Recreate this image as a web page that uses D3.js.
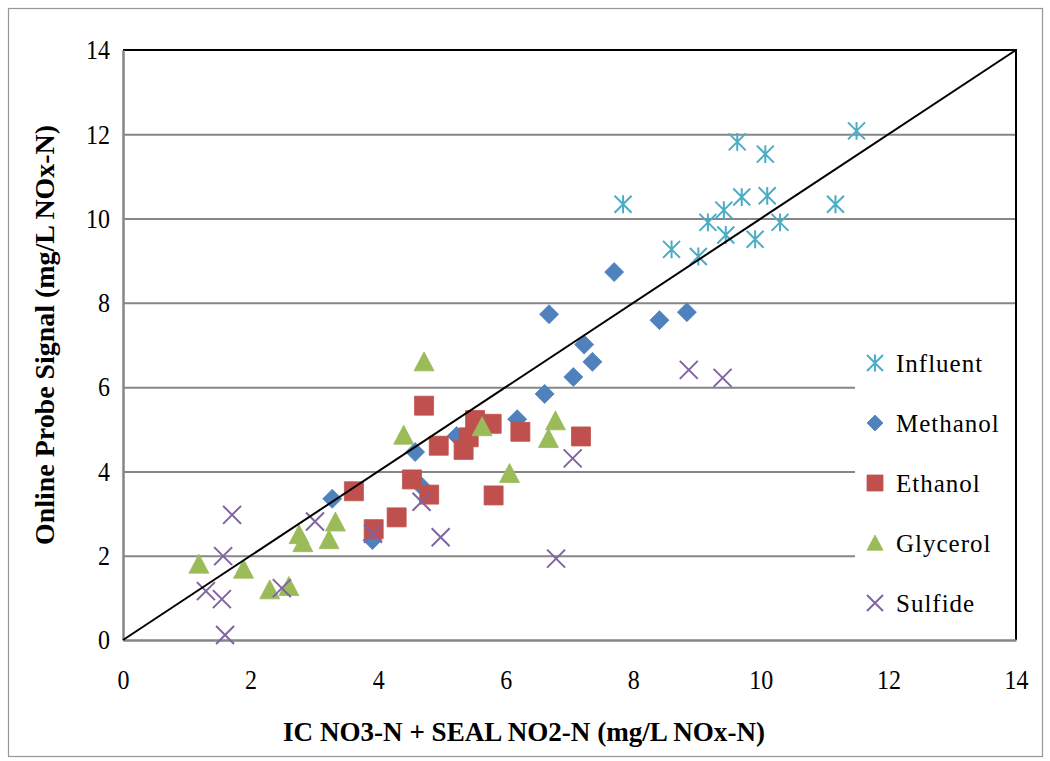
<!DOCTYPE html>
<html>
<head>
<meta charset="utf-8">
<script src="https://cdn.jsdelivr.net/npm/d3@7"></script>
<style>
  html, body { margin: 0; padding: 0; background: #fff; }
</style>
</head>
<body>
<svg id="chart" width="1050" height="761"></svg>
<script>
// Probe signal vs. lab NOx-N, by sample source
const seriesNames = ["Influent", "Methanol", "Ethanol", "Glycerol", "Sulfide"];
const seriesColors = ["#4BACC6", "#4F81BD", "#C0504D", "#9BBB59", "#8064A2"];
const seriesShapes = ["star", "diamond", "square", "triangle", "cross"];

// [lab value, probe value]
const influent = [
  [11.50, 12.08], [9.63, 11.82], [10.07, 11.53], [7.84, 10.34], [9.70, 10.51],
  [10.10, 10.54], [9.42, 10.20], [9.17, 9.91], [10.30, 9.91], [11.17, 10.34],
  [8.60, 9.27], [9.45, 9.61], [9.02, 9.10], [9.91, 9.51]
];
const methanol = [
  [7.70, 8.73], [6.68, 7.73], [8.41, 7.59], [8.84, 7.78], [7.23, 7.01],
  [7.36, 6.60], [7.06, 6.24], [6.61, 5.84], [6.18, 5.24], [5.23, 4.84],
  [4.58, 4.46], [4.65, 3.69], [3.28, 3.35], [3.91, 2.37]
];
const ethanol = [
  [4.72, 5.56], [5.52, 5.22], [5.78, 5.13], [5.42, 4.81], [5.34, 4.51],
  [4.95, 4.61], [6.23, 4.94], [7.18, 4.83], [4.53, 3.81], [4.80, 3.45],
  [5.81, 3.43], [3.62, 3.53], [4.29, 2.91], [3.93, 2.63]
];
const glycerol = [
  [4.72, 6.60], [4.40, 4.86], [5.63, 5.06], [6.78, 5.20], [6.67, 4.78],
  [6.06, 3.95], [3.33, 2.80], [3.23, 2.38], [2.76, 2.50], [2.82, 2.31],
  [1.19, 1.80], [1.89, 1.68], [2.30, 1.19], [2.60, 1.27]
];
const sulfide = [
  [1.71, 2.97], [1.57, 1.99], [1.30, 1.16], [1.55, 0.97], [1.60, 0.12],
  [2.49, 1.23], [3.01, 2.81], [3.92, 2.52], [4.68, 3.28], [4.98, 2.44],
  [7.05, 4.31], [6.79, 1.93], [8.87, 6.41], [9.40, 6.22]
];
const seriesData = [influent, methanol, ethanol, glycerol, sulfide];

const xTicks = [0, 2, 4, 6, 8, 10, 12, 14];
const yTicks = [0, 2, 4, 6, 8, 10, 12, 14];
const oneToOne = [[0, 0], [14, 14]];

const xTitle = "IC NO3-N + SEAL NO2-N (mg/L NOx-N)";
const yTitle = "Online Probe Signal (mg/L NOx-N)";

const FONT = "'Liberation Serif', 'Times New Roman', 'DejaVu Serif', serif";
const TICK_STRETCH = 1.15;   // tall, narrow tick digits

const svg = d3.select("#chart");
const plot = { left: 123, right: 1016, top: 50, bottom: 640 };

const x = d3.scaleLinear().domain([0, 14]).range([plot.left, plot.right]);
const y = d3.scaleLinear().domain([0, 14]).range([plot.bottom, plot.top]);

// Chart frame
svg.append("rect")
  .attr("x", 8.5).attr("y", 8.5).attr("width", 1034).attr("height", 748)
  .attr("fill", "#fff").attr("stroke", "#969696").attr("stroke-width", 1.2);

// Horizontal gridlines
svg.append("g")
  .call(d3.axisLeft(y).tickValues(yTicks.filter(d => d > 0 && d < 14))
    .tickSize(-(plot.right - plot.left)).tickFormat(""))
  .attr("transform", `translate(${plot.left},0)`)
  .call(g => g.select(".domain").remove())
  .call(g => g.selectAll("line").attr("stroke", "#868686").attr("stroke-width", 2));

// Plot border (top and right)
svg.append("path")
  .attr("d", `M${plot.left},${plot.top}H${plot.right}V${plot.bottom}`)
  .attr("fill", "none").attr("stroke", "#000").attr("stroke-width", 2);

// Legend background covers the gridlines beneath it
const legendBox = { x0: 855, y0: 332 };
svg.append("rect")
  .attr("x", legendBox.x0).attr("y", legendBox.y0)
  .attr("width", plot.right - 1 - legendBox.x0).attr("height", plot.bottom - legendBox.y0)
  .attr("fill", "#fff");

// Axes
const xAxis = svg.append("g")
  .attr("transform", `translate(0,${plot.bottom})`)
  .call(d3.axisBottom(x).tickValues(xTicks).tickSize(0).tickPadding(26).tickFormat(d3.format("d")));
const yAxis = svg.append("g")
  .attr("transform", `translate(${plot.left},0)`)
  .call(d3.axisLeft(y).tickValues(yTicks).tickSize(0).tickPadding(13).tickFormat(d3.format("d")));
[xAxis, yAxis].forEach(a => {
  a.attr("font-family", FONT).attr("font-size", 24);
  a.select(".domain").attr("stroke", "#868686").attr("stroke-width", 2.5);
  a.selectAll("text")
    .attr("fill", "#000")
    .attr("transform", `scale(1,${TICK_STRETCH})`);
});

// Marker shapes
function markerPath(shape, s) {
  const h = s / 2;
  switch (shape) {
    case "diamond": return `M0,${-h}L${h},0L0,${h}L${-h},0Z`;
    case "square": return `M${-h},${-h}H${h}V${h}H${-h}Z`;
    case "triangle": return `M0,${-h}L${h},${h * 0.9}H${-h}Z`;
    case "cross": return `M${-h},${-h}L${h},${h}M${h},${-h}L${-h},${h}`;
    case "star": return `M${-h},${-h}L${h},${h}M${h},${-h}L${-h},${h}M0,${-h * 1.05}V${h * 1.05}`;
  }
}
function drawMarker(sel, shape, color, size) {
  const stroked = shape === "cross" || shape === "star";
  sel.append("path")
    .attr("d", markerPath(shape, size))
    .attr("fill", stroked ? "none" : color)
    .attr("stroke", color)
    .attr("stroke-width", stroked ? 2 : 0.8)
    .attr("stroke-linejoin", "round");
}

const sizes = { star: 17, diamond: 19, square: 19, triangle: 20, cross: 18 };

seriesData.forEach((data, i) => {
  const g = svg.append("g").attr("class", "series-" + seriesNames[i]);
  g.selectAll("g.pt").data(data).join("g")
    .attr("class", "pt")
    .attr("transform", d => `translate(${x(d[0])},${y(d[1])})`)
    .each(function () {
      drawMarker(d3.select(this), seriesShapes[i], seriesColors[i], sizes[seriesShapes[i]]);
    });
});

// 1:1 line
svg.append("path")
  .datum(oneToOne)
  .attr("d", d3.line().x(d => x(d[0])).y(d => y(d[1])))
  .attr("fill", "none").attr("stroke", "#000").attr("stroke-width", 2);

// Legend
const legend = svg.append("g");
seriesNames.forEach((name, i) => {
  const row = legend.append("g").attr("transform", `translate(875,${363 + i * 60})`);
  drawMarker(row, seriesShapes[i], seriesColors[i], 16);
  row.append("text")
    .attr("x", 21).attr("y", 0).attr("dy", "0.35em")
    .attr("font-family", FONT).attr("font-size", 25)
    .attr("letter-spacing", "1px")
    .text(name);
});

// Axis titles
svg.append("text")
  .attr("x", (283 + 765) / 2).attr("y", 741)
  .attr("text-anchor", "middle")
  .attr("textLength", 482).attr("lengthAdjust", "spacingAndGlyphs")
  .attr("font-family", FONT).attr("font-size", 27).attr("font-weight", "bold")
  .text(xTitle);
svg.append("text")
  .attr("transform", `translate(54,${(125 + 545) / 2}) rotate(-90)`)
  .attr("text-anchor", "middle")
  .attr("textLength", 420).attr("lengthAdjust", "spacingAndGlyphs")
  .attr("font-family", FONT).attr("font-size", 27).attr("font-weight", "bold")
  .text(yTitle);
</script>
</body>
</html>
